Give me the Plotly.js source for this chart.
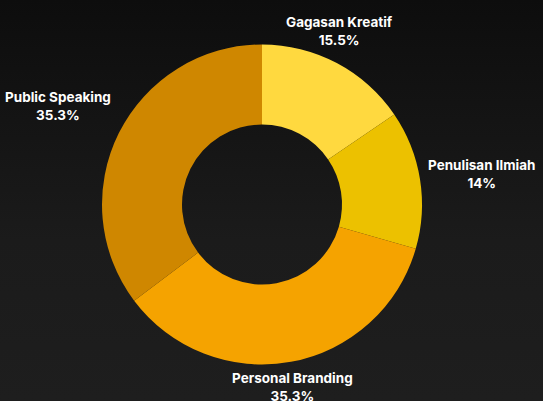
<!DOCTYPE html>
<html>
<head>
<meta charset="utf-8">
<script src="https://cdn.plot.ly/plotly-3.0.1.min.js"></script>
<style>
  html, body { margin: 0; padding: 0; }
  body { width: 543px; height: 401px; background: linear-gradient(180deg, #0d0d0d 0%, #141414 30%, #1b1b1b 60%, #1e1e1e 100%); overflow: hidden; }
  #chart { width: 543px; height: 401px; }
</style>
</head>
<body>
<div id="chart"></div>
<script>
const categories = ["Gagasan Kreatif", "Penulisan Ilmiah", "Personal Branding", "Public Speaking"];
const shares = [15.5, 14, 35.3, 35.3];
const sliceColors = ["#FFD93F", "#ECC100", "#F5A300", "#CF8700"];

const W = 543, H = 401;
const domX = [102 / W, 422 / W];
const domY = [36.5 / H, 356.5 / H];
const labelRadiusX = 166;
const labelRadiusY = 170;

const trace = {
  type: "pie",
  labels: categories,
  values: shares,
  hole: 0.5,
  sort: false,
  direction: "clockwise",
  rotation: 0,
  marker: { colors: sliceColors, line: { width: 0 } },
  textinfo: "none",
  hoverinfo: "none",
  domain: { x: domX, y: domY },
  showlegend: false
};

// labels placed outside each slice at its mid-angle (computed from the data)
const total = shares.reduce((a, b) => a + b, 0);
const cx = (domX[0] + domX[1]) / 2, cy = (domY[0] + domY[1]) / 2;
let cum = 0;
const annotations = shares.map((v, i) => {
  const mid = (cum + v / 2) / total * 2 * Math.PI;
  cum += v;
  const s = Math.sin(mid), c = Math.cos(mid);
  return {
    xref: "paper", yref: "paper",
    x: cx + s * labelRadiusX / W,
    y: cy + c * labelRadiusY / H,
    yshift: 4,
    xanchor: s > 0.6 ? "left" : (s < -0.6 ? "right" : "center"),
    yanchor: c > 0.4 ? "bottom" : (c < -0.4 ? "top" : "middle"),
    align: "center",
    showarrow: false,
    text: categories[i] + "<br>" + v + "%",
    font: { family: "Inter, 'Open Sans', sans-serif", size: 13.5, color: "#ffffff", weight: 700 }
  };
});

const layout = {
  width: W,
  height: H,
  margin: { l: 0, r: 0, t: 0, b: 0 },
  paper_bgcolor: "rgba(0,0,0,0)",
  plot_bgcolor: "rgba(0,0,0,0)",
  showlegend: false,
  annotations: annotations
};

Plotly.newPlot("chart", [trace], layout, { displayModeBar: false, staticPlot: true });
</script>
</body>
</html>
